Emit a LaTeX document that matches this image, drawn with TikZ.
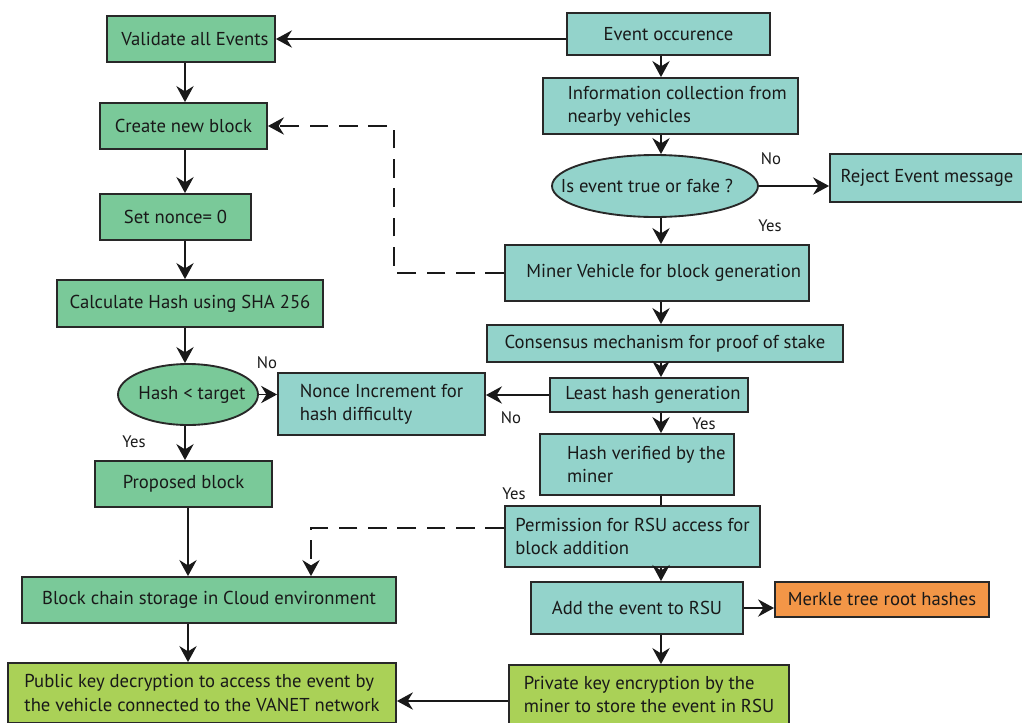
\documentclass[tikz,border=0pt]{standalone}
\usepackage{fontspec}
\setmainfont{PT Sans}
\usetikzlibrary{arrows.meta,shapes.geometric}

\definecolor{boxgreen}{RGB}{122,201,153}
\definecolor{boxteal}{RGB}{147,211,203}
\definecolor{boxlime}{RGB}{170,209,87}
\definecolor{boxorange}{RGB}{243,150,71}
\definecolor{edge}{RGB}{40,40,40}
\definecolor{ink}{RGB}{25,25,25}

\begin{document}
\begin{tikzpicture}[x=0.75pt,y=-0.75pt,
  font=\fontsize{14}{17.5}\selectfont, text=ink,
  sz/.style 2 args={minimum width=#1*0.75pt, minimum height=#2*0.75pt},
  box/.style={draw=edge, line width=1.4pt, inner sep=0pt, align=left},
  gbox/.style={box, fill=boxgreen},
  tbox/.style={box, fill=boxteal},
  lbox/.style={box, fill=boxlime},
  obox/.style={box, fill=boxorange},
  gell/.style={box, ellipse, fill=boxgreen},
  tell/.style={box, ellipse, fill=boxteal},
  arr/.style={draw=ink, line width=1.2pt, -{Stealth[length=12pt,width=13pt,inset=4pt]}},
  plain/.style={draw=ink, line width=1.2pt},
  darr/.style={arr, dash pattern=on 14pt off 8pt},
  tag/.style={font=\fontsize{12.5}{14}\selectfont, inner sep=0pt}]

\useasboundingbox (0,0) rectangle (1022,722);

% left column
\node[gbox, sz={168}{46}] (val) at (191,39) {\hspace*{6pt}Validate all Events};
\node[gbox, sz={167}{46}] (cnb) at (183.5,126) {Create new block};
\node[gbox, sz={151}{46}] (sn) at (175.5,217) {Set nonce= 0};
\node[gbox, sz={266}{47}] (calc) at (190,303.5) {Calculate Hash using SHA 256};
\node[gell, sz={140}{61}] (hash) at (188,394.5) {\makebox[0pt]{\hspace*{6pt}Hash < target}};
\node[tbox, sz={207}{62}] (nonce) at (381.5,404) {Nonce Increment for\\hash difficulty};
\node[gbox, sz={177}{46}] (prop) at (183.5,484) {Proposed block};
\node[gbox, sz={374}{46}] (bcs) at (209,600) {Block chain storage in Cloud environment};
\node[lbox, sz={388}{60}] (pub) at (202,693) {Public key decryption to access the event by\\the vehicle connected to the VANET network};

% right column
\node[tbox, sz={203}{42}] (ev) at (668.5,34) {Event occurence};
\node[tbox, sz={255}{56}] (info) at (670.5,106) {\hspace*{10pt}Information collection from\\\hspace*{10pt}nearby vehicles};
\node[tell, sz={206}{62}] (fake) at (655,186) {\makebox[0pt]{Is event true or fake ?\hspace*{12pt}}};
\node[tbox, sz={194}{48}] (rej) at (927,178) {Reject Event message};
\node[tbox, sz={304}{56}] (miner) at (657,273) {\hspace*{10pt}Miner Vehicle for block generation};
\node[tbox, sz={356}{37}] (cons) at (665,343.5) {Consensus mechanism for proof of stake};
\node[tbox, sz={198}{34}] (least) at (649,395) {\hspace*{6pt}Least hash generation};
\node[tbox, sz={194}{61}] (hv) at (637,464.5) {\hspace*{14pt}Hash verified by the\\\hspace*{14pt}miner};
\node[tbox, sz={255}{61}] (perm) at (632.5,536.5) {Permission for RSU access for\\block addition};
\node[tbox, sz={212}{52}] (add) at (637,608) {Add the event to RSU};
\node[obox, sz={214}{35}] (merk) at (882,599.5) {Merkle tree root hashes};
\node[lbox, sz={280}{59}] (priv) at (649,694.5) {Private key encryption by the\\miner to store the event in RSU};

% guide coordinates for the vertical spines and the bottom link
\coordinate (lx) at (185,0);
\coordinate (lxb) at (188,0);
\coordinate (rx) at (661,0);
\coordinate (ly) at (0,701);
\coordinate (dk) at (311,528);

% left column flow
\draw[arr] (ev.west |- val.east) -- (val.east);
\draw[arr] (lx |- val.south) -- (lx |- cnb.north);
\draw[arr] (lx |- cnb.south) -- (lx |- sn.north);
\draw[arr] (lx |- sn.south) -- (lx |- calc.north);
\draw[arr] (lx |- calc.south) -- (lx |- hash.north);
\draw[arr] (hash.east) -- (nonce.west |- hash.east);
\draw[arr] (lx |- hash.south) -- (lx |- prop.north);
\draw[arr] (lxb |- prop.south) -- (lxb |- bcs.north);
\draw[arr] (lxb |- bcs.south) -- (lxb |- pub.north);

% right column flow
\draw[arr] (rx |- ev.south) -- (rx |- info.north);
\draw[arr] (rx |- info.south) -- (rx |- fake.north);
\draw[arr] (fake.east) -- (rej.west |- fake.east);
\draw[arr] (rx |- fake.south) -- (rx |- miner.north);
\draw[arr] (rx |- miner.south) -- (rx |- cons.north);
\draw[arr] (rx |- cons.south) -- (rx |- least.north);
\draw[arr] (least.west) -- (nonce.east |- least.west);
\draw[arr] (rx |- least.south) -- (rx |- hv.north);
\draw[plain] (rx |- hv.south) -- (rx |- perm.north);
\draw[arr] (rx |- perm.south) -- (rx |- add.north);
\draw[arr] (add.east) -- (merk.west |- add.east);
\draw[arr] (rx |- add.south) -- (rx |- priv.north);
\draw[arr] (priv.west |- ly) -- (pub.east |- ly);

% dashed links back to the left column
\draw[darr] (miner.west) -- ++(-110,0) |- (cnb.east);
\draw[darr] (perm.west |- dk) -| (dk |- bcs.north);

% decision labels
\node[tag] (no1) at (771,159) {No};
\node[tag] (yes1) at (770,226) {Yes};
\node[tag] (no2) at (267,363) {No};
\node[tag] (yes2) at (134,442) {Yes};
\node[tag] (no3) at (511,418) {No};
\node[tag] (yes3) at (704,424) {Yes};
\node[tag] (yes4) at (514,494) {Yes};
\end{tikzpicture}
\end{document}
